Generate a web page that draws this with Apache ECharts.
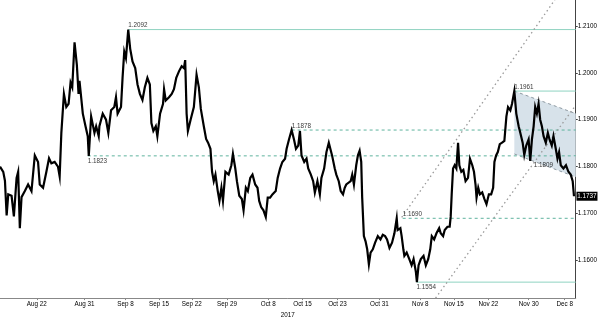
<!DOCTYPE html>
<html>
<head>
<meta charset="utf-8">
<script src="https://cdn.jsdelivr.net/npm/echarts@6/dist/echarts.min.js"></script>
<style>
html,body{margin:0;padding:0;background:#fff;}
#c{width:600px;height:323px;}
</style>
</head>
<body>
<div id="c"></div>
<script>
// x values are trading-day index counted from Aug 22, 2017
const pricePath = [
[-5.43,1.1800],[-4.95,1.1789],[-4.70,1.1770],[-4.45,1.1696],[-4.21,1.1741],[-3.72,1.1738],[-3.38,1.1694],[-2.98,1.1776],[-2.75,1.1789],[-2.50,1.1669],
[-2.25,1.1735],[-1.76,1.1748],[-1.28,1.1762],[-0.78,1.1748],[-0.29,1.1824],[0.19,1.1810],[0.44,1.1762],[0.93,1.1755],[1.42,1.1789],[1.81,1.1818],
[2.16,1.1807],[2.64,1.1810],[3.13,1.1800],[3.38,1.1779],[3.63,1.1872],[4.01,1.1955],[4.36,1.1927],[4.70,1.1934],[4.99,1.1979],[5.24,1.1969],
[5.58,1.2065],[5.92,1.2017],[6.17,1.1955],[6.31,1.1983],[6.80,1.1913],[7.20,1.1886],[7.53,1.1865],[7.68,1.1823],[8.03,1.1907],[8.52,1.1872],
[8.77,1.1886],[9.15,1.1865],
[9.25,1.1886],[9.74,1.1913],[10.23,1.1900],[10.57,1.1872],[10.97,1.1920],[11.45,1.1927],[11.70,1.1948],[11.94,1.1913],[12.44,1.1927],[12.67,1.1989],
[12.92,1.2045],[13.17,1.2031],[13.51,1.2092],[13.80,1.2051],[14.14,1.2024],[14.54,1.2010],[14.88,1.1975],[15.23,1.1955],[15.61,1.1942],[15.96,1.1969],
[16.34,1.1989],[16.70,1.1975],[16.93,1.1893],[17.22,1.1876],[17.58,1.1886],[17.81,1.1865],[18.21,1.1913],[18.65,1.1934],[18.80,1.1965],[19.05,1.1941],
[19.53,1.1948],[19.93,1.1955],[20.26,1.1965],[20.60,1.1989],[21.00,1.2003],[21.40,1.2014],[21.73,1.2010],[21.92,1.2027],[22.13,1.1913],[22.32,1.1876],
[22.72,1.1900],[23.20,1.1927],[23.60,1.1996],[23.94,1.1969],
[24.23,1.1923],[24.67,1.1886],[25.01,1.1859],[25.30,1.1851],[25.65,1.1838],[25.89,1.1789],[26.14,1.1769],[26.39,1.1783],[26.73,1.1748],[26.98,1.1727],
[27.27,1.1755],[27.50,1.1727],[27.86,1.1789],[28.34,1.1783],[28.74,1.1803],[28.97,1.1827],[29.32,1.1796],[29.56,1.1769],[29.91,1.1738],[30.29,1.1731],
[30.54,1.1707],[30.88,1.1755],[31.17,1.1748],[31.53,1.1776],[31.86,1.1783],[32.26,1.1762],[32.60,1.1755],[32.85,1.1727],[33.14,1.1714],[33.48,1.1707],
[33.82,1.1693],[34.11,1.1734],[34.46,1.1734],[34.80,1.1741],[35.29,1.1748],[35.58,1.1776],[35.93,1.1796],[36.27,1.1810],[36.67,1.1817],[36.90,1.1838],
[37.25,1.1858],[37.64,1.1878],[37.99,1.1858],[38.28,1.1838],
[38.62,1.1845],[38.87,1.1876],[39.10,1.1824],[39.50,1.1810],[39.84,1.1817],[40.09,1.1796],[40.48,1.1783],[40.82,1.1769],[41.07,1.1745],[41.45,1.1769],
[41.81,1.1741],[42.04,1.1776],[42.44,1.1796],[42.78,1.1831],[43.13,1.1851],[43.36,1.1855],[43.61,1.1824],[44.01,1.1796],[44.24,1.1783],[44.60,1.1769],
[44.89,1.1748],[45.23,1.1741],[45.48,1.1755],[45.71,1.1762],[45.96,1.1762],[46.36,1.1769],[46.59,1.1783],[46.84,1.1762],[47.18,1.1803],[47.43,1.1824],
[47.68,1.1834],[47.92,1.1810],[48.06,1.1734],[48.31,1.1652],[48.56,1.1641],[48.80,1.1624],[49.05,1.1592],[49.30,1.1617],[49.63,1.1624],[49.97,1.1638],
[50.37,1.1652],[50.76,1.1645],[51.10,1.1655],[51.44,1.1652],[51.73,1.1645],[52.09,1.1627],[52.47,1.1638],[52.82,1.1658],[53.16,1.1690],
[53.30,1.1665],[53.70,1.1669],[53.89,1.1652],[54.14,1.1624],[54.29,1.1610],[54.63,1.1617],[55.02,1.1603],[55.36,1.1590],[55.65,1.1603],[55.99,1.1576],
[56.14,1.1554],[56.39,1.1590],[56.72,1.1603],[57.12,1.1610],[57.46,1.1590],[57.81,1.1603],[58.11,1.1624],[58.34,1.1652],[58.69,1.1645],[59.03,1.1658],
[59.43,1.1669],[59.66,1.1658],[60.01,1.1652],[60.25,1.1665],[60.65,1.1672],[60.98,1.1672],[61.13,1.1693],[61.28,1.1741],[61.48,1.1796],[61.72,1.1803],
[61.97,1.1796],[62.22,1.1851],[62.41,1.1803],[62.70,1.1789],[63.00,1.1793],[63.33,1.1769],[63.69,1.1776],[63.98,1.1817],[64.32,1.1803],[64.57,1.1789],
[64.80,1.1762],[64.95,1.1734],[65.20,1.1755],[65.45,1.1741],[65.79,1.1745],[66.12,1.1731],[66.42,1.1720],[66.77,1.1741],[67.11,1.1741],[67.40,1.1755],
[67.59,1.1810],[67.84,1.1824],
[68.09,1.1831],[68.38,1.1848],[68.72,1.1851],[69.06,1.1855],[69.36,1.1907],[69.60,1.1927],[69.94,1.1920],[70.19,1.1934],[70.53,1.1961],[70.82,1.1913],
[71.17,1.1886],[71.41,1.1872],[71.76,1.1851],[72.00,1.1825],[72.29,1.1845],[72.64,1.1858],[72.88,1.1812],[73.13,1.1858],[73.38,1.1886],[73.61,1.1927],
[73.86,1.1913],[74.11,1.1934],[74.35,1.1900],[74.60,1.1886],[74.85,1.1865],[75.18,1.1851],[75.48,1.1872],[75.73,1.1858],[76.06,1.1845],[76.31,1.1865],
[76.65,1.1838],[76.90,1.1817],[77.14,1.1831],[77.39,1.1803],[77.78,1.1796],[78.16,1.1803],[78.52,1.1789],[78.86,1.1783],[79.15,1.1769],[79.34,1.1737]
];
const lastPrice = 1.1737;

// date tick labels (trading-day index positions)
const dateLabels = ['Aug 22','Aug 31','Sep 8','Sep 15','Sep 22','Sep 29','Oct 8','Oct 15','Oct 23','Oct 31','Nov 8','Nov 15','Nov 22','Nov 30','Dec 8'];
const dateTicks  = [0, 7.05, 13.1, 18.06, 22.9, 28.1, 34.2, 39.25, 44.4, 50.6, 56.65, 61.6, 66.7, 72.65, 77.97];
const yearLabel = '2017';

const priceTicks = [1.16, 1.17, 1.18, 1.19, 1.20, 1.21];
const xMin = -5.43, xMax = 79.6, yMin = 1.152, yMax = 1.2155;

// horizontal levels
const levelValues = [1.2092, 1.1961, 1.1878, 1.1823, 1.1690, 1.1554];
const levelStarts = [13.51, 70.53, 37.64, 7.53, 54.04, 56.1];
const levelDashed = [false, false, true, true, true, false];
const levelLabelBelow = [false, false, false, true, false, true];

// extra annotation
const noteValue = 1.1809;
const notePoint = [73.4, 1.1809];

// channel lines
const channelUpper = [[53.9, 1.1692], [76.5, 1.2155]];
const channelLower = [[58.9, 1.1520], [79.6, 1.1931]];

// flag (wedge) polygon
const flagPoly = [[70.53, 1.1961], [79.6, 1.1913], [79.6, 1.1778], [70.53, 1.1827]];

const FONT = "'Liberation Sans', Arial, sans-serif";
const FS = 6.3;

const chart = echarts.init(document.getElementById('c'), null, {renderer: 'canvas'});

const series = [];

series.push({
  type: 'custom',
  z: 1,
  silent: true,
  renderItem: function (params, api) {
    if (params.dataIndex !== 0) return;
    const pts = flagPoly.map(p => api.coord(p));
    return {
      type: 'group',
      children: [
        {type: 'polygon', shape: {points: pts}, style: {fill: '#d7e2ea', stroke: null}},
        {type: 'line', shape: {x1: pts[0][0], y1: pts[0][1], x2: pts[1][0], y2: pts[1][1]},
          style: {stroke: '#8f9aa2', lineWidth: 1, lineDash: [3, 3]}},
        {type: 'line', shape: {x1: pts[3][0], y1: pts[3][1], x2: pts[2][0], y2: pts[2][1]},
          style: {stroke: '#8f9aa2', lineWidth: 1, lineDash: [3, 3]}}
      ]
    };
  },
  data: flagPoly
});

levelValues.forEach((v, i) => {
  series.push({
    type: 'line',
    z: 2,
    silent: true,
    symbol: 'none',
    lineStyle: {
      color: levelDashed[i] ? '#5fb39e' : '#8fd3c1',
      width: 1,
      type: levelDashed[i] ? [3, 3] : 'solid'
    },
    data: [[levelStarts[i], v], [xMax, v]]
  });
  series.push({
    type: 'scatter',
    z: 6,
    silent: true,
    symbolSize: 0,
    data: [[levelStarts[i], v]],
    label: {
      show: true,
      formatter: v.toFixed(4),
      position: [0, levelLabelBelow[i] ? 2 : -1],
      align: 'left',
      verticalAlign: levelLabelBelow[i] ? 'top' : 'bottom',
      color: '#000',
      fontSize: FS,
      fontFamily: FONT
    }
  });
});

series.push({
  type: 'scatter', z: 6, silent: true, symbolSize: 0,
  data: [notePoint],
  label: {show: true, formatter: noteValue.toFixed(4), position: [0, 0], align: 'left', verticalAlign: 'top',
    color: '#000', fontSize: FS, fontFamily: FONT}
});

[channelUpper, channelLower].forEach(seg => {
  series.push({
    type: 'line', z: 3, silent: true, symbol: 'none',
    lineStyle: {color: '#9a9a9a', width: 1.3, type: [1.5, 3]},
    data: seg
  });
});

series.push({
  type: 'line',
  z: 5,
  symbol: 'none',
  clip: true,
  lineStyle: {color: '#000', width: 2.2, join: 'miter'},
  data: pricePath,
  markPoint: {
    silent: true,
    symbol: 'rect',
    symbolSize: [21, 9],
    symbolOffset: [13, 0],
    itemStyle: {color: '#000'},
    label: {show: true, position: 'inside', color: '#fff', fontSize: FS, fontFamily: FONT,
      formatter: lastPrice.toFixed(4)},
    data: [{coord: [pricePath[pricePath.length - 1][0], lastPrice]}]
  }
});

chart.setOption({
  animation: false,
  backgroundColor: '#fff',
  grid: {left: 0, right: 21, top: 0, bottom: 16, containLabel: false},
  xAxis: {
    type: 'value',
    min: xMin, max: xMax,
    name: yearLabel,
    nameLocation: 'middle',
    nameGap: 11,
    nameTextStyle: {fontSize: FS, color: '#000', fontFamily: FONT},
    axisLine: {show: true, onZero: false, lineStyle: {color: '#888', width: 1}},
    axisTick: {show: true, customValues: dateTicks, length: 2, lineStyle: {color: '#888'}},
    axisLabel: {
      customValues: dateTicks,
      fontSize: FS, color: '#000', fontFamily: FONT, margin: 3,
      formatter: function (val) {
        let best = 0, bd = 1e9;
        dateTicks.forEach((t, i) => { const d = Math.abs(t - val); if (d < bd) { bd = d; best = i; } });
        return dateLabels[best];
      }
    },
    splitLine: {show: false}
  },
  yAxis: {
    type: 'value',
    position: 'right',
    min: yMin, max: yMax,
    axisLine: {show: true, onZero: false, lineStyle: {color: '#444', width: 1}},
    axisTick: {show: true, customValues: priceTicks, length: 2, lineStyle: {color: '#444'}},
    axisLabel: {
      customValues: priceTicks,
      fontSize: FS, color: '#000', fontFamily: FONT, margin: 2,
      formatter: v => v.toFixed(4)
    },
    splitLine: {show: false}
  },
  series: series
});
</script>
</body>
</html>
